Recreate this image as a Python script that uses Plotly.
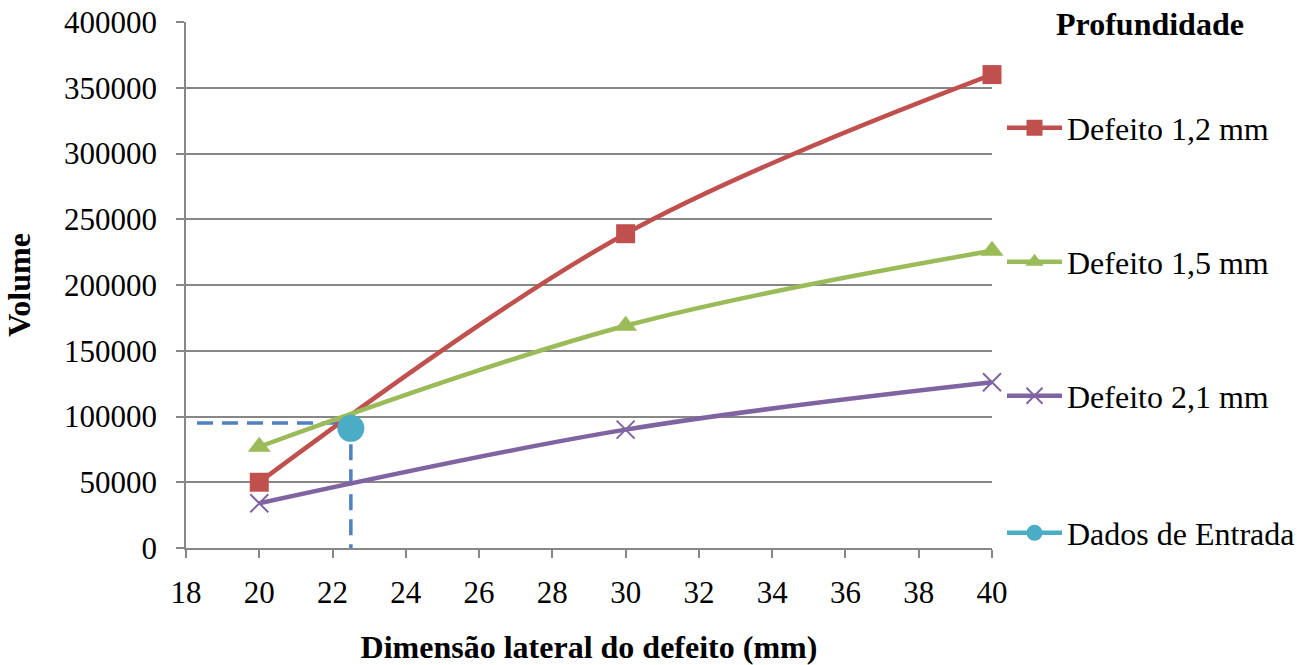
import plotly.graph_objects as go

# Volume vs. lateral defect dimension, one curve per defect depth
x_dim = [20, 30, 40]
vol_12 = [50000, 239000, 360000]
vol_15 = [77000, 169000, 226000]
vol_21 = [34000, 90000, 126000]

# Input point and its reading guide
entrada_x = [22.5]
entrada_y = [91000]
guide_x = [18.3, 22.5, 22.5]
guide_y = [95000, 95000, 0]

x_ticks = list(range(18, 41, 2))
y_ticks = list(range(0, 400001, 50000))

FONT = "Liberation Serif, Times New Roman, serif"
FS = 32
TICK_FS = 31
RED, GREEN, PURPLE, CYAN, BLUE = "#C0504D", "#9BBB59", "#8064A2", "#4BACC6", "#4F81BD"

fig = go.Figure()

fig.add_trace(go.Scatter(
    x=guide_x, y=guide_y, mode="lines", showlegend=False, hoverinfo="skip",
    line=dict(color=BLUE, width=3.5, dash="16px,9px"),
))

fig.add_trace(go.Scatter(
    x=x_dim, y=vol_12, name="Defeito 1,2 mm", legend="legend",
    mode="lines+markers", line=dict(color=RED, width=4.5, shape="spline"),
    marker=dict(symbol="square", size=19, color=RED), cliponaxis=False,
))
fig.add_trace(go.Scatter(
    x=x_dim, y=vol_15, name="Defeito 1,5 mm", legend="legend2",
    mode="lines+markers", line=dict(color=GREEN, width=4.5, shape="spline"),
    marker=dict(symbol="triangle-up", size=20, color=GREEN), cliponaxis=False,
))
fig.add_trace(go.Scatter(
    x=x_dim, y=vol_21, name="Defeito 2,1 mm", legend="legend3",
    mode="lines+markers", line=dict(color=PURPLE, width=4.5, shape="spline"),
    marker=dict(symbol="x-thin", size=18, color=PURPLE,
                line=dict(color=PURPLE, width=2)), cliponaxis=False,
))
fig.add_trace(go.Scatter(
    x=entrada_x, y=entrada_y, name="Dados de Entrada", legend="legend4",
    mode="lines+markers", line=dict(color=CYAN, width=4.5),
    marker=dict(symbol="circle", size=27, color=CYAN), cliponaxis=False,
))


def legend_box(y_px):
    return dict(
        xref="container", yref="container",
        x=1002 / 1297, y=1 - y_px / 665, xanchor="left", yanchor="middle",
        font=dict(family=FONT, size=FS), itemwidth=55,
        bgcolor="rgba(0,0,0,0)",
    )


fig.update_layout(
    width=1297, height=665,
    margin=dict(l=186, r=305, t=22, b=117, autoexpand=False),
    paper_bgcolor="white", plot_bgcolor="white",
    font=dict(family=FONT, size=FS, color="black"),
    xaxis=dict(
        range=[18, 40], tickvals=x_ticks, ticktext=[str(v) for v in x_ticks],
        tickfont=dict(family=FONT, size=TICK_FS),
        showgrid=False, zeroline=False,
        showline=True, linecolor="#878787", linewidth=1.5,
        ticks="outside", ticklen=8, tickcolor="#878787", tickwidth=1.5,
        ticklabelstandoff=8,
        title=dict(text="<b>Dimensão lateral do defeito (mm)</b>",
                   font=dict(family=FONT, size=FS), standoff=38),
    ),
    yaxis=dict(
        range=[0, 400000], tickvals=y_ticks, ticktext=[str(v) for v in y_ticks],
        tickfont=dict(family=FONT, size=TICK_FS),
        showgrid=True, gridcolor="#878787", gridwidth=1.5, zeroline=False,
        showline=True, linecolor="#878787", linewidth=1.5,
        ticks="outside", ticklen=8, tickcolor="#878787", tickwidth=1.5,
        ticklabelstandoff=13,
        title=dict(text="<b>Volume</b>", font=dict(family=FONT, size=FS), standoff=24),
    ),
    legend=legend_box(128),
    legend2=legend_box(262),
    legend3=legend_box(396),
    legend4=legend_box(533),
    annotations=[dict(
        text="<b>Profundidade</b>", xref="paper", yref="paper",
        x=(1150 - 186) / 806, y=1 + (22 - 24) / 526,
        xanchor="center", yanchor="middle", showarrow=False,
        font=dict(family=FONT, size=FS),
    )],
)

fig.write_html("out.html")
